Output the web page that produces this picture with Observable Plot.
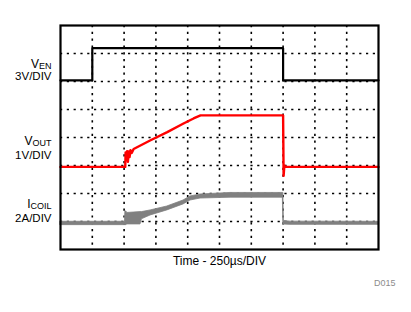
<!DOCTYPE html>
<html><head><meta charset="utf-8">
<script src="https://cdn.jsdelivr.net/npm/d3@7"></script>
<script src="https://cdn.jsdelivr.net/npm/@observablehq/plot@0.6"></script>
<style>html,body{margin:0;padding:0;background:#fff;} svg{display:block}</style>
</head><body><div id="chart"></div>
<script>
// Time axis: µs, 250 µs per division, 10 divisions
const xDomain = [0, 2500];
const gridTimes = [250, 500, 750, 1000, 1250, 1500, 1750, 2000, 2250];
const gridDivs = [1, 2, 3, 4, 5, 6, 7];

// VEN (V) — 3V/DIV
const venTime  = [0, 250, 250, 1750, 1750, 2500];
const venVolts = [0, 0, 3.45, 3.45, 0, 0];

// VOUT (V) — 1V/DIV
const voutTime  = [0, 509, 512, 518, 524, 530, 536, 543, 550, 560, 575, 708, 839, 967, 1046, 1101, 1750, 1754, 1760, 1768, 2500];
const voutVolts = [0, 0, 0.52, 0.30, 0.56, 0.18, 0.55, 0.35, 0.60, 0.50, 0.64, 0.95, 1.24, 1.55, 1.73, 1.84, 1.84, -0.32, 0.05, 0, 0];

// ICOIL (A) — 2A/DIV, envelope of the noisy trace
const icoilTime = [0, 507, 510, 519, 523, 629, 640, 708, 839, 967, 1022, 1101, 1337, 1748, 1752, 1756, 1808, 2500];
const icoilLow  = [-0.12, -0.12, -0.12, -0.12, -0.07, -0.07, 0.30, 0.57, 0.93, 1.36, 1.64, 1.78, 1.84, 1.84, -0.10, -0.08, -0.10, -0.10];
const icoilHigh = [0.12, 0.12, 0.85, 0.85, 0.75, 0.81, 0.81, 0.93, 1.21, 1.64, 1.93, 2.07, 2.18, 2.18, 2.18, 0.18, 0.13, 0.12];

// channel placement on the 8-division screen
const channels = {
  ven:   {zero: 6.04, perDiv: 3},
  vout:  {zero: 2.95, perDiv: 1},
  icoil: {zero: 0.93, perDiv: 2}
};

// left labels: "main|subscript" and scale text
const labelText = ["V|EN", "3V/DIV", "V|OUT", "1V/DIV", "I|COIL", "2A/DIV"];
const labelDiv  = [6.63, 6.17, 3.88, 3.38, 1.6, 1.13];

const xLabel = "Time - 250µs/DIV";
const figId = "D015";

const toDiv = (ch, v) => channels[ch].zero + v / channels[ch].perDiv;
const ven = venTime.map((t, i) => ({t, y: toDiv("ven", venVolts[i])}));
const vout = voutTime.map((t, i) => ({t, y: toDiv("vout", voutVolts[i])}));
const icoil = icoilTime.map((t, i) => ({t, y1: toDiv("icoil", icoilLow[i]), y2: toDiv("icoil", icoilHigh[i])}));
const labels = labelText.map((text, i) => ({text, y: labelDiv[i]}));

const grid = {stroke: "black", strokeWidth: 1.6, strokeDasharray: "2.2,4.6", strokeOpacity: 1};

const svg = Plot.plot({
  width: 411,
  height: 312,
  marginLeft: 60,
  marginRight: 33,
  marginTop: 25,
  marginBottom: 63,
  style: {fontFamily: "Arial, 'Liberation Sans', sans-serif", background: "white", color: "black"},
  x: {domain: xDomain, axis: null},
  y: {domain: [0, 8], axis: null},
  marks: [
    Plot.ruleX(gridTimes, {...grid}),
    Plot.ruleY(gridDivs, {...grid}),
    Plot.areaY(icoil, {x: "t", y1: "y1", y2: "y2", fill: "#808080", stroke: "#808080", strokeWidth: 0.8}),
    Plot.line(vout, {x: "t", y: "y", stroke: "#ff0000", strokeWidth: 2.4}),
    Plot.line(ven, {x: "t", y: "y", stroke: "black", strokeWidth: 2.2}),
    Plot.frame({stroke: "black", strokeWidth: 2.2}),
    Plot.text(labels, {x: 0, y: "y", text: "text", textAnchor: "end", dx: -9, fontSize: 11.5, fill: "black"}),
    Plot.text([xLabel], {frameAnchor: "bottom", dy: 15, fontSize: 12, fill: "black"}),
    Plot.text([figId], {frameAnchor: "bottom-right", dx: 17, dy: 36, textAnchor: "end", fontSize: 9, fill: "#8c8c8c"})
  ]
});

d3.select(svg).selectAll("text").each(function () {
  const t = this.textContent;
  if (t.includes("|")) {
    const [a, b] = t.split("|");
    const sel = d3.select(this);
    sel.text(null);
    sel.append("tspan").attr("font-size", 12).text(a);
    sel.append("tspan").attr("font-size", 9).attr("dy", 1).text(b);
  }
});

document.getElementById("chart").appendChild(svg);
</script>
</body></html>
